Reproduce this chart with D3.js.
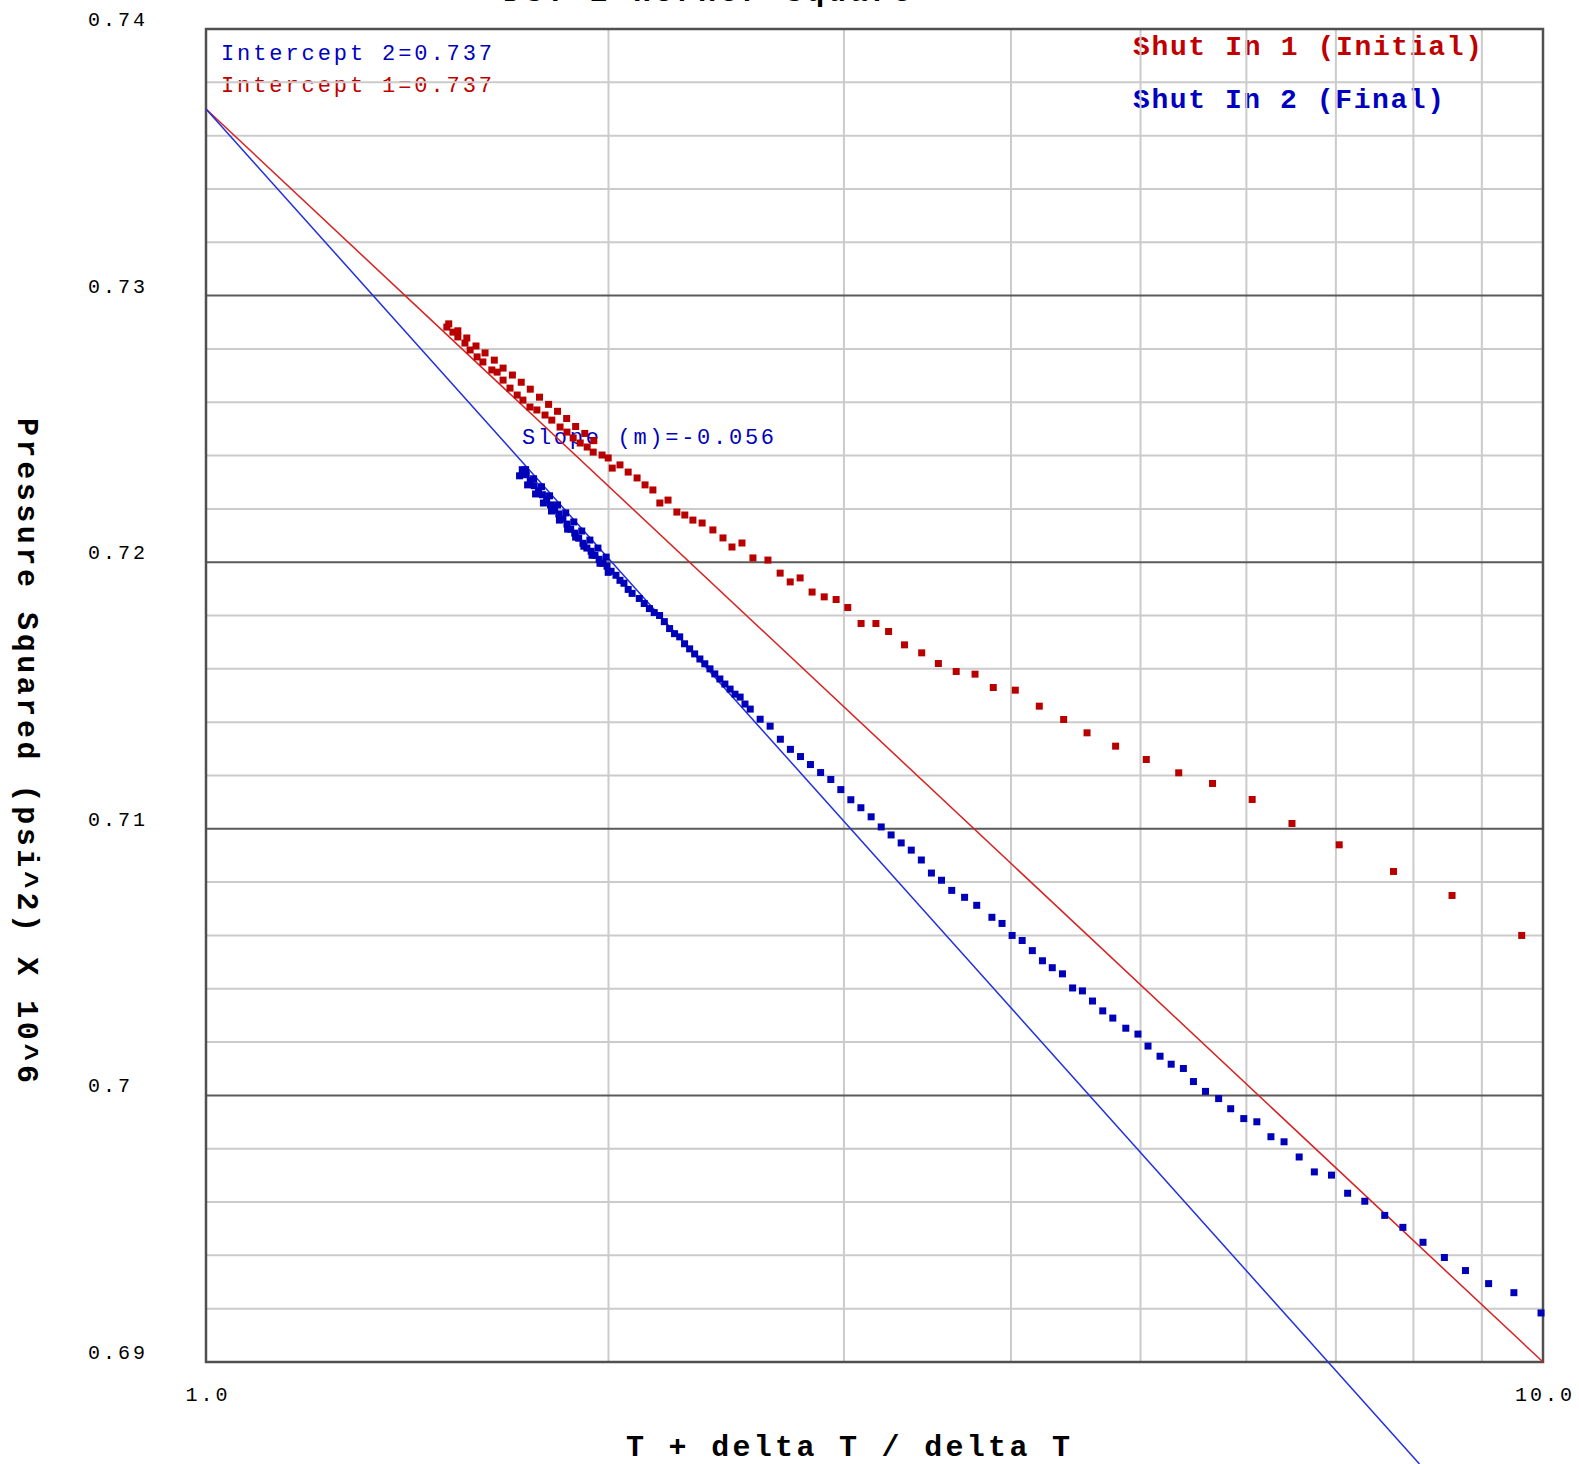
<!DOCTYPE html>
<html>
<head>
<meta charset="utf-8">
<script src="https://cdn.jsdelivr.net/npm/d3@7"></script>
<style>
body { margin: 0; background: #fff; }
svg { display: block; }
text { font-family: "Liberation Mono", "DejaVu Sans Mono", monospace; }
</style>
</head>
<body>
<svg id="horner" width="1579" height="1464"></svg>
<script>
// Shut In 1 (Initial) - red
var redX = [1.514, 1.530, 1.543, 1.562, 1.576, 1.595, 1.611, 1.636, 1.651, 1.668, 1.688, 1.709, 1.726, 1.747,
	1.768, 1.793, 1.814, 1.840, 1.862, 1.882, 1.905, 1.928, 1.948, 1.978, 1.999, 2.013, 2.040, 2.069, 2.101,
	2.130, 2.159, 2.185, 2.216, 2.250, 2.281, 2.313, 2.350, 2.394, 2.436, 2.474, 2.517, 2.565, 2.632, 2.688,
	2.735, 2.782, 2.840, 2.90, 2.96, 3.02, 3.09, 3.17, 3.24, 3.33, 3.43, 3.53, 3.64, 3.76, 3.88, 4.03, 4.20,
	4.38, 4.56, 4.79, 5.05, 5.34, 5.66, 6.06, 6.49, 7.04, 7.73, 8.55, 9.64,
	1.519, 1.543, 1.567, 1.592, 1.617, 1.643, 1.668, 1.695, 1.721, 1.748, 1.776, 1.804, 1.832, 1.861, 1.890,
	1.920, 1.950];
var redY = [0.72882, 0.72863, 0.72845, 0.72822, 0.72796, 0.7277, 0.72751, 0.72721, 0.72713, 0.72683, 0.72653,
	0.72627, 0.72608, 0.72582, 0.72571, 0.72552, 0.72533, 0.72507, 0.72488, 0.72466, 0.72447, 0.72432, 0.72413,
	0.72402, 0.72391, 0.72353, 0.72365, 0.72338, 0.72316, 0.7229, 0.72271, 0.72222, 0.72233, 0.72188, 0.72177,
	0.72158, 0.72147, 0.72121, 0.72091, 0.72057, 0.72072, 0.72016, 0.72008, 0.71959, 0.71926, 0.71941, 0.71888,
	0.7187, 0.7186, 0.7183, 0.7177, 0.7177, 0.7174, 0.7169, 0.7166, 0.7162, 0.7159, 0.7158, 0.7153, 0.7152,
	0.7146, 0.7141, 0.7136, 0.7131, 0.7126, 0.7121, 0.7117, 0.7111, 0.7102, 0.7094, 0.7084, 0.7075, 0.7060,
	0.72894, 0.72868, 0.72841, 0.72811, 0.72785, 0.72758, 0.72728, 0.72702, 0.72675, 0.72649, 0.72619, 0.72592,
	0.72566, 0.72539, 0.72509, 0.72483, 0.72456];

// Shut In 2 (Final) - blue
var blueX = [1.724, 1.736, 1.748, 1.760, 1.773, 1.785, 1.798, 1.810, 1.823, 1.836, 1.849, 1.862, 1.874, 1.887,
	1.900, 1.914, 1.927, 1.941, 1.954, 1.968, 1.981, 1.995, 2.009, 2.026, 2.054, 2.083, 2.109, 2.146, 2.184,
	2.222, 2.261, 2.300, 2.341, 2.382, 2.423, 2.466, 2.509, 2.553, 2.597, 2.642, 2.689, 2.736, 2.784, 2.832,
	2.882, 2.933, 2.984, 3.036, 3.089, 3.144, 3.199, 3.254, 3.311, 3.369, 3.428, 3.488, 3.549, 3.612, 3.693,
	3.771, 3.871, 3.939, 4.008, 4.078, 4.150, 4.223, 4.295, 4.371, 4.448, 4.524, 4.603, 4.685, 4.767, 4.875,
	4.978, 5.065, 5.171, 5.271, 5.383, 5.477, 5.592, 5.720, 5.840, 5.973, 6.109, 6.259, 6.402, 6.571, 6.745,
	6.947, 7.143, 7.357, 7.614, 7.856, 8.133, 8.438, 8.750, 9.106, 9.511, 9.966,
	1.734, 1.758, 1.782, 1.807, 1.832, 1.858, 1.884, 1.910, 1.937, 1.964, 1.992,
	1.716, 1.740, 1.764, 1.788, 1.813, 1.838, 1.864, 1.890, 1.917, 1.944, 1.971, 1.999,
	2.040, 2.069, 2.127, 2.164, 2.202, 2.241, 2.280, 2.320, 2.361, 2.402, 2.444, 2.487, 2.530];
var blueY = [0.72347, 0.72328, 0.72305, 0.72287, 0.72268, 0.72253, 0.72234, 0.72215, 0.72196, 0.72181, 0.72162,
	0.72143, 0.72124, 0.72109, 0.7209, 0.72071, 0.72053, 0.72041, 0.72026, 0.72011, 0.71996, 0.71985, 0.71966,
	0.71951, 0.71921, 0.71883, 0.71864, 0.71826, 0.718, 0.71751, 0.7172, 0.71675, 0.71637, 0.716, 0.71562,
	0.71524, 0.71494, 0.71449, 0.71411, 0.71385, 0.71336, 0.71298, 0.71271, 0.71241, 0.71211, 0.71185, 0.71147,
	0.71109, 0.71079, 0.71045, 0.71007, 0.70977, 0.70947, 0.7092, 0.70883, 0.70834, 0.70807, 0.70769, 0.70743,
	0.70713, 0.70668, 0.70645, 0.706, 0.70581, 0.70543, 0.70505, 0.70479, 0.70456, 0.70403, 0.70392, 0.70354,
	0.70317, 0.7029, 0.70252, 0.7023, 0.70185, 0.70147, 0.70117, 0.70101, 0.70052, 0.70015, 0.69988, 0.6995,
	0.69913, 0.69901, 0.69845, 0.69826, 0.69769, 0.69713, 0.69701, 0.69633, 0.69603, 0.6955, 0.69505, 0.69449,
	0.69392, 0.69343, 0.69294, 0.6926, 0.69184,
	0.72347, 0.72313, 0.72283, 0.72249, 0.72215, 0.72185, 0.72151, 0.72117, 0.72083, 0.72053, 0.72019,
	0.72324, 0.7229, 0.72256, 0.72222, 0.72192, 0.72158, 0.72124, 0.72094, 0.7206, 0.72026, 0.71996, 0.71962,
	0.71932, 0.71898, 0.71845, 0.71811, 0.71777, 0.71732, 0.71694, 0.71656, 0.71619, 0.71581, 0.71543, 0.71505,
	0.71468];

// fitted straight lines (semilog)
var intercept1 = 0.737, slope1 = -0.047;
var intercept2 = 0.737, slope2 = -0.056;

var yTicks = [0.69, 0.70, 0.71, 0.72, 0.73, 0.74];
var yTickLabels = ["0.69", "0.7", "0.71", "0.72", "0.73", "0.74"];
var xTicks = [1, 10];
var xTickLabels = ["1.0", "10.0"];
var xGrid = [2, 3, 4, 5, 6, 7, 8, 9];

var drawHorner = function() {
	var svg = d3.select("#horner"),
		pLeft = 206, pTop = 29, pRight = 1543, pBottom = 1362;

	var x = d3.scaleLog().domain([1, 10]).range([pLeft, pRight]);
	var y = d3.scaleLinear().domain([0.69, 0.74]).range([pBottom, pTop]);

	var minorY = [];
	for (var i = 0; i < yTicks.length - 1; i++) {
		for (var k = 1; k < 5; k++) minorY.push(yTicks[i] + k * 0.002);
	}

	var red = "#c00000", blue = "#0000c0";

	// title, mostly off the top edge
	svg.append("text")
		.attr("x", 503).attr("y", 1)
		.attr("textLength", 408).attr("lengthAdjust", "spacing")
		.attr("font-size", "30px").attr("font-weight", "bold")
		.text("DST 2 Horner Square");

	// texts inside the plot (drawn under the grid like the original)
	svg.append("text").attr("x", 221).attr("y", 60)
		.attr("textLength", 271).attr("lengthAdjust", "spacing")
		.attr("font-size", "22px").attr("fill", blue)
		.text("Intercept 2=" + intercept2.toFixed(3));
	svg.append("text").attr("x", 221).attr("y", 92)
		.attr("textLength", 271).attr("lengthAdjust", "spacing")
		.attr("font-size", "22px").attr("fill", red)
		.text("Intercept 1=" + intercept1.toFixed(3));
	svg.append("text").attr("x", 522).attr("y", 444)
		.attr("textLength", 252).attr("lengthAdjust", "spacing")
		.attr("font-size", "22px").attr("fill", blue)
		.text("Slope (m)=" + slope2.toFixed(3));

	svg.append("text").attr("x", 1133).attr("y", 55)
		.attr("textLength", 349).attr("lengthAdjust", "spacing")
		.attr("font-size", "28px").attr("font-weight", "bold").attr("fill", red)
		.text("Shut In 1 (Initial)");
	svg.append("text").attr("x", 1133).attr("y", 108)
		.attr("textLength", 311).attr("lengthAdjust", "spacing")
		.attr("font-size", "28px").attr("font-weight", "bold").attr("fill", blue)
		.text("Shut In 2 (Final)");

	// grid
	svg.append("g")
		.selectAll("line")
		.data(minorY)
		.enter().append("line")
		.attr("x1", pLeft).attr("x2", pRight)
		.attr("y1", function (d) { return y(d); })
		.attr("y2", function (d) { return y(d); })
		.attr("stroke", "#cbcbcb").attr("stroke-width", 2);

	svg.append("g")
		.selectAll("line")
		.data(xGrid)
		.enter().append("line")
		.attr("y1", pTop).attr("y2", pBottom)
		.attr("x1", function (d) { return x(d); })
		.attr("x2", function (d) { return x(d); })
		.attr("stroke", "#cbcbcb").attr("stroke-width", 2);

	svg.append("g")
		.selectAll("line")
		.data(yTicks.slice(1, -1))
		.enter().append("line")
		.attr("x1", pLeft).attr("x2", pRight)
		.attr("y1", function (d) { return y(d); })
		.attr("y2", function (d) { return y(d); })
		.attr("stroke", "#5a5a5a").attr("stroke-width", 2);

	svg.append("rect")
		.attr("x", pLeft).attr("y", pTop)
		.attr("width", pRight - pLeft).attr("height", pBottom - pTop)
		.attr("fill", "none").attr("stroke", "#505050").attr("stroke-width", 2.5);

	// tick labels
	svg.append("g")
		.selectAll("text")
		.data(yTicks)
		.enter().append("text")
		.attr("x", 88)
		.attr("y", function (d) { return y(d) - 3; })
		.attr("font-size", "20px")
		.attr("letter-spacing", "3px")
		.text(function (d, i) { return yTickLabels[i]; });

	svg.append("g")
		.selectAll("text")
		.data(xTicks)
		.enter().append("text")
		.attr("x", function (d) { return x(d) + 2; })
		.attr("y", 1401)
		.attr("text-anchor", "middle")
		.attr("font-size", "20px")
		.attr("letter-spacing", "3px")
		.text(function (d, i) { return xTickLabels[i]; });

	// axis titles
	svg.append("text")
		.attr("x", 626).attr("y", 1456)
		.attr("textLength", 444).attr("lengthAdjust", "spacing")
		.attr("font-size", "30px").attr("font-weight", "bold")
		.text("T + delta T / delta T");

	svg.append("text")
		.attr("transform", "translate(18,418) rotate(90)")
		.attr("textLength", 665).attr("lengthAdjust", "spacing")
		.attr("font-size", "30px").attr("font-weight", "bold")
		.text("Pressure Squared (psi^2) X 10^6");

	// fitted lines
	var line = d3.line()
		.x(function (d) { return x(d[0]); })
		.y(function (d) { return y(d[1]); });

	var endX2 = Math.pow(10, (y.invert(1464) - intercept2) / slope2);
	svg.append("path")
		.datum([[1, intercept1], [10, intercept1 + slope1]])
		.attr("d", line)
		.attr("fill", "none").attr("stroke", "#d82020").attr("stroke-width", 1.5);
	svg.append("path")
		.datum([[1, intercept2], [endX2, intercept2 + slope2 * Math.log10(endX2)]])
		.attr("d", line)
		.attr("fill", "none").attr("stroke", "#2030e0").attr("stroke-width", 1.5);

	// points
	var s = 7;
	svg.append("g")
		.selectAll("rect")
		.data(redX)
		.enter().append("rect")
		.attr("x", function (d) { return x(d) - s / 2; })
		.attr("y", function (d, i) { return y(redY[i]) - s / 2; })
		.attr("width", s).attr("height", s)
		.attr("fill", "#b80000");

	svg.append("g")
		.selectAll("rect")
		.data(blueX)
		.enter().append("rect")
		.attr("x", function (d) { return x(d) - s / 2; })
		.attr("y", function (d, i) { return y(blueY[i]) - s / 2; })
		.attr("width", s).attr("height", s)
		.attr("fill", "#0000b8");
}

drawHorner();
</script>
</body>
</html>
